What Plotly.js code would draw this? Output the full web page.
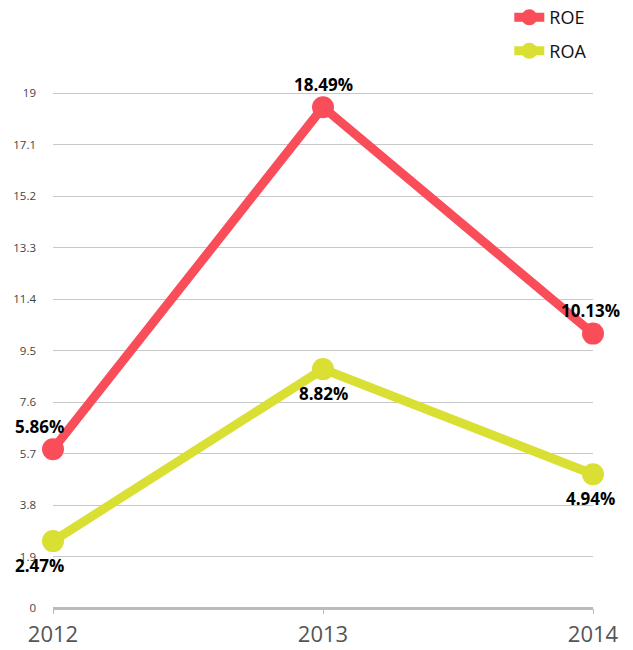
<!DOCTYPE html>
<html>
<head>
<meta charset="utf-8">
<script src="https://cdn.plot.ly/plotly-3.0.1.min.js"></script>
<style>
  html, body { margin: 0; padding: 0; background: #fff; }
  #chart { width: 633px; height: 650px; }
</style>
</head>
<body>
<div id="chart"></div>
<script>
// Chart data
const years = ['2012', '2013', '2014'];
const roe = [5.86, 18.49, 10.13];
const roa = [2.47, 8.82, 4.94];
const yTicks = [0, 1.9, 3.8, 5.7, 7.6, 9.5, 11.4, 13.3, 15.2, 17.1, 19];

const RED = '#f94d5a';
const YELLOW = '#d9df33';

function series(name, values, color) {
    return {
        x: years,
        y: values,
        name: name,
        legendgroup: name,
        type: 'scatter',
        mode: 'lines+markers',
        line: { color: color, width: 9 },
        marker: { color: color, size: 22 },
        cliponaxis: false,
        hoverinfo: 'skip'
    };
}

// Value labels: ROE above points, ROA below
// (annotation x is the category index, year strings would be read as numbers)
const labelShift = [-14, 0, -3];
const labelFont = { family: 'Open Sans, sans-serif', size: 17, color: '#000' };
const annotations = [];
roe.forEach((v, i) => annotations.push({
    x: i, y: v, text: '<b>' + v.toFixed(2) + '%</b>', showarrow: false,
    yshift: 23, xshift: labelShift[i], font: labelFont
}));
roa.forEach((v, i) => annotations.push({
    x: i, y: v, text: '<b>' + v.toFixed(2) + '%</b>', showarrow: false,
    yshift: -24, xshift: labelShift[i], font: labelFont
}));

const layout = {
    width: 633,
    height: 650,
    margin: { l: 53, r: 40, t: 92, b: 42, autoexpand: false },
    paper_bgcolor: '#fff',
    plot_bgcolor: '#fff',
    showlegend: true,
    legend: {
        x: 0.845, y: 1.18, xanchor: 'left', yanchor: 'top',
        font: { family: 'Open Sans, sans-serif', size: 18, color: '#111' },
        tracegroupgap: 7
    },
    xaxis: {
        type: 'category',
        range: [0, 2],
        showgrid: false,
        zeroline: false,
        showline: false,
        ticks: 'outside',
        ticklen: 5,
        tickcolor: '#bbb',
        tickfont: { family: 'Open Sans, sans-serif', size: 22, color: '#555' },
        ticklabelstandoff: 2
    },
    yaxis: {
        range: [0, 19.05],
        tickvals: yTicks,
        ticktext: yTicks.map(String),
        showgrid: true,
        gridcolor: '#c8c8c8',
        gridwidth: 1,
        zeroline: true,
        zerolinecolor: '#bbb',
        zerolinewidth: 3,
        showline: false,
        tickfont: { family: 'Open Sans, sans-serif', size: 11.5, color: '#444' },
        ticklabelstandoff: 16
    },
    annotations: annotations
};

Plotly.newPlot('chart', [series('ROE', roe, RED), series('ROA', roa, YELLOW)], layout, { displayModeBar: false, staticPlot: true });
</script>
</body>
</html>
